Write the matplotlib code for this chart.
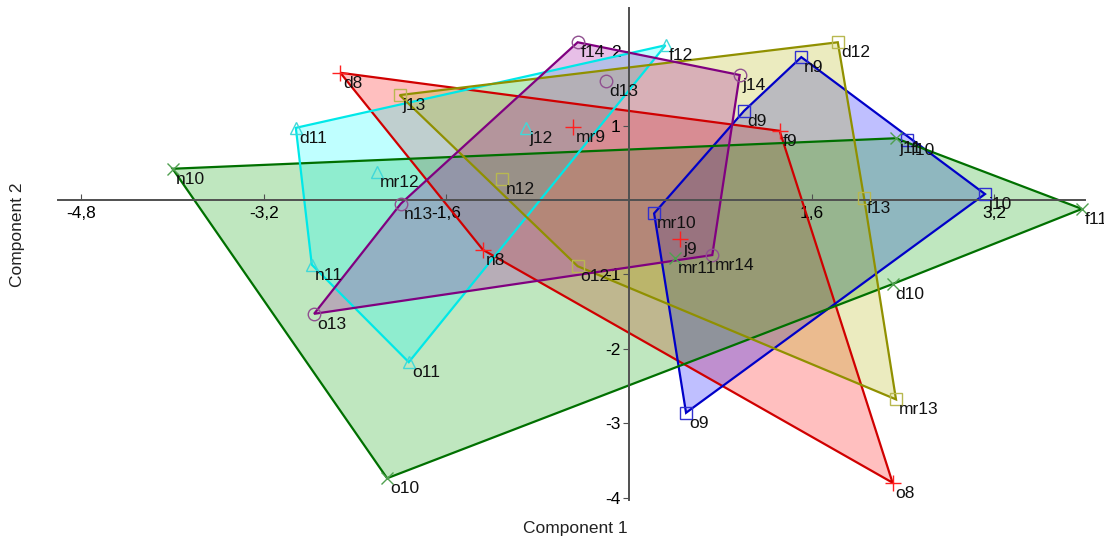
import matplotlib
matplotlib.use("Agg")
import matplotlib.pyplot as plt
from matplotlib.patches import Polygon

plt.rcParams['font.family'] = ['Liberation Sans', 'DejaVu Sans']

# PCA scores, one list per group
red_names = ['d8', 'f9', 'o8', 'n8', 'mr9', 'j9']
red_x = [-2.53, 1.32, 2.31, -1.28, -0.49, 0.45]
red_y = [1.71, 0.93, -3.80, -0.67, 0.98, -0.52]

blue_names = ['n9', 'd9', 'f10', 'j10', 'o9', 'mr10']
blue_x = [1.51, 1.01, 2.44, 3.12, 0.50, 0.22]
blue_y = [1.92, 1.20, 0.81, 0.08, -2.86, -0.18]

green_names = ['n10', 'j11', 'f11', 'd10', 'o10', 'mr11']
green_x = [-4.00, 2.34, 3.97, 2.31, -2.12, 0.40]
green_y = [0.42, 0.83, -0.12, -1.13, -3.74, -0.78]

cyan_names = ['f12', 'd11', 'n11', 'o11', 'j12', 'mr12']
cyan_x = [0.32, -2.92, -2.78, -1.93, -0.90, -2.21]
cyan_y = [2.08, 0.97, -0.87, -2.18, 0.97, 0.38]

olive_names = ['j13', 'd12', 'mr13', 'o12', 'f13', 'n12']
olive_x = [-2.01, 1.83, 2.34, -0.45, 2.06, -1.11]
olive_y = [1.41, 2.12, -2.68, -0.89, 0.03, 0.28]

purple_names = ['f14', 'j14', 'mr14', 'o13', 'n13', 'd13']
purple_x = [-0.45, 0.97, 0.73, -2.76, -2.00, -0.20]
purple_y = [2.12, 1.68, -0.74, -1.53, -0.05, 1.60]

xticks = [-4.8, -3.2, -1.6, 1.6, 3.2]
yticks = [-4, -3, -2, -1, 1, 2]


def hull(px, py):
    pts = sorted(zip(px, py))

    def cross(o, a, b):
        return (a[0] - o[0]) * (b[1] - o[1]) - (a[1] - o[1]) * (b[0] - o[0])

    lower = []
    for p in pts:
        while len(lower) >= 2 and cross(lower[-2], lower[-1], p) <= 0:
            lower.pop()
        lower.append(p)
    upper = []
    for p in reversed(pts):
        while len(upper) >= 2 and cross(upper[-2], upper[-1], p) <= 0:
            upper.pop()
        upper.append(p)
    return lower[:-1] + upper[:-1]


groups = [
    (red_names, red_x, red_y, '#ff0000', '#d00000', '#ff2020', '+', 11),
    (blue_names, blue_x, blue_y, '#0000ff', '#0000c8', '#3030d0', 's', 9),
    (green_names, green_x, green_y, '#00a000', '#007000', '#50a050', 'x', 8),
    (cyan_names, cyan_x, cyan_y, '#00ffff', '#00e8e8', '#40d8d8', '^', 9),
    (olive_names, olive_x, olive_y, '#b0b000', '#909000', '#b8b850', 's', 8),
    (purple_names, purple_x, purple_y, '#a000a0', '#800080', '#905090', 'o', 9),
]

fig = plt.figure(figsize=(11.04, 5.38), dpi=100)
ax = fig.add_axes([0, 0, 1, 1])
ax.set_xlim(-629 / 114.1, (1104 - 629) / 114.1)
ax.set_ylim((200 - 538) / 74.4, 200 / 74.4)

for names, gx, gy, fill, edge, mcol, mk, ms in groups:
    poly = Polygon(hull(gx, gy), closed=True, facecolor=fill, alpha=0.25,
                   edgecolor='none', zorder=1)
    ax.add_patch(poly)
    poly = Polygon(hull(gx, gy), closed=True, facecolor='none',
                   edgecolor=edge, linewidth=1.6, zorder=2)
    ax.add_patch(poly)
    if mk in ('+', 'x'):
        ax.plot(gx, gy, linestyle='none', marker=mk, markersize=ms,
                color=mcol, markeredgewidth=1.0, zorder=4)
    else:
        ax.plot(gx, gy, linestyle='none', marker=mk, markersize=ms,
                markerfacecolor='none', markeredgecolor=mcol,
                markeredgewidth=1.0, zorder=4)
    for n, a, b in zip(names, gx, gy):
        ax.annotate(n, (a, b), xytext=(3, -3), textcoords='offset pixels',
                    ha='left', va='top', fontsize=12.5, color='#111111',
                    zorder=5)

for s in ['top', 'right']:
    ax.spines[s].set_visible(False)
ax.spines['left'].set_position(('data', 0))
ax.spines['bottom'].set_position(('data', 0))
ax.spines['bottom'].set_bounds(-5.0, 4.0)
ax.spines['left'].set_bounds(-4.03, 2.58)
for s in ['left', 'bottom']:
    ax.spines[s].set_color('#505050')
    ax.spines[s].set_linewidth(1.4)
    ax.spines[s].set_zorder(3)

ax.set_xticks(xticks)
ax.set_xticklabels([str(t).replace('.', ',') for t in xticks])
ax.set_yticks(yticks)
ax.set_yticklabels([str(t) for t in yticks])
ax.tick_params(axis='x', direction='in', length=4, labelsize=12.5, pad=4,
               color='#505050')
ax.tick_params(axis='y', direction='out', length=4, labelsize=12.5, pad=2,
               color='#505050')
ax.patch.set_visible(False)

fig.text(575 / 1104, 1 - 528 / 538, 'Component 1', ha='center', va='center',
         fontsize=12.5, color='#222222')
fig.text(18 / 1104, 1 - 235 / 538, 'Component 2', ha='center', va='center',
         rotation=90, fontsize=12.5, color='#222222')

fig.savefig('out.png', dpi=100)
